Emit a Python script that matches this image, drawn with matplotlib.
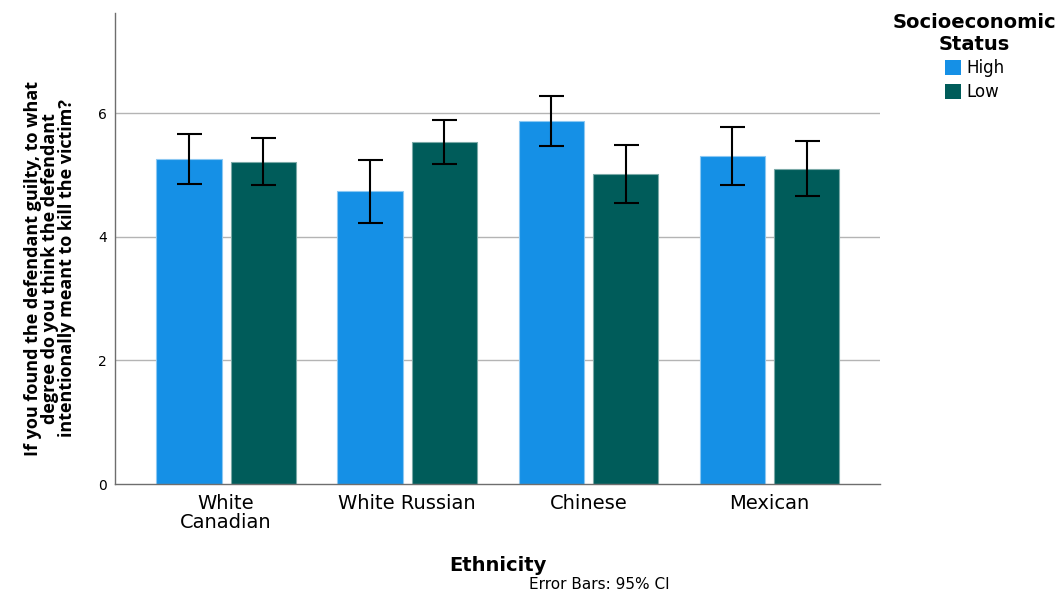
import numpy as np
import matplotlib
matplotlib.use('Agg')
import matplotlib.pyplot as plt
from matplotlib.patches import Patch

# ethnicity groups and socioeconomic status means with 95% CI bounds
ethnicity = ["White\nCanadian", "White Russian", "Chinese", "Mexican"]
high_mean = [5.26, 4.74, 5.87, 5.30]
high_lo = [4.85, 4.23, 5.47, 4.83]
high_hi = [5.66, 5.25, 6.28, 5.77]
low_mean = [5.21, 5.53, 5.01, 5.10]
low_lo = [4.83, 5.18, 4.55, 4.66]
low_hi = [5.59, 5.89, 5.48, 5.55]
yticks = [0, 2, 4, 6]

c_high = '#1590e6'
c_low = '#005c5a'

fig = plt.figure(figsize=(10.58, 5.92), dpi=100)
ax = fig.add_axes([0.1087, 0.1824, 0.7231, 0.7956])

x = np.arange(len(ethnicity))
w = 0.36
off = 0.205

hm = np.array(high_mean)
lm = np.array(low_mean)
h_err = [hm - np.array(high_lo), np.array(high_hi) - hm]
l_err = [lm - np.array(low_lo), np.array(low_hi) - lm]

ax.bar(x - off, hm, w, color=c_high, edgecolor='#8cc8f2', linewidth=0.8, zorder=2)
ax.bar(x + off, lm, w, color=c_low, edgecolor='#7aa9a7', linewidth=0.8, zorder=2)
ax.errorbar(x - off, hm, yerr=h_err, fmt='none', ecolor='black', elinewidth=1.5,
            capsize=9, capthick=1.5, zorder=3)
ax.errorbar(x + off, lm, yerr=l_err, fmt='none', ecolor='black', elinewidth=1.5,
            capsize=9, capthick=1.5, zorder=3)

ax.set_xlim(-0.613, 3.61)
ax.set_ylim(0, 7.62)
ax.set_yticks(yticks)
ax.set_yticklabels([str(t) for t in yticks], fontsize=10)
ax.set_xticks(x)
ax.set_xticklabels(ethnicity, fontsize=14, linespacing=1.05)
ax.tick_params(axis='both', length=0, pad=6)
ax.tick_params(axis='x', pad=7)

for yv in yticks[1:]:
    ax.axhline(yv, color='#b4b4b4', linewidth=1.0, zorder=1)

for s in ['top', 'right']:
    ax.spines[s].set_visible(False)
for s in ['left', 'bottom']:
    ax.spines[s].set_color('#6e6e6e')
    ax.spines[s].set_linewidth(1.0)

fig.text(0.047, 0.547, "If you found the defendant guilty, to what\ndegree do you think the defendant\n"
         "intentionally meant to kill the victim?", rotation=90, fontsize=13,
         family='Open Sans', fontweight='bold', ha='center', va='center',
         multialignment='center', linespacing=0.92)
fig.text(0.471, 0.045, "Ethnicity", fontsize=14, fontweight='bold', ha='center', va='center')
fig.text(0.566, 0.012, "Error Bars: 95% CI", fontsize=11, ha='center', va='center')

handles = [Patch(facecolor=c_high, label='High'), Patch(facecolor=c_low, label='Low')]
leg = fig.legend(handles=handles, title="Socioeconomic\nStatus", loc='upper center',
                 bbox_to_anchor=(0.921, 0.99), frameon=False, fontsize=12,
                 title_fontproperties={'weight': 'bold', 'size': 14},
                 handlelength=1.0, handleheight=1.0, handletextpad=0.3,
                 labelspacing=0.35, borderaxespad=0)
leg.get_title().set_multialignment('center')
leg._legend_box.align = 'center'

fig.savefig('out.png', dpi=100)
